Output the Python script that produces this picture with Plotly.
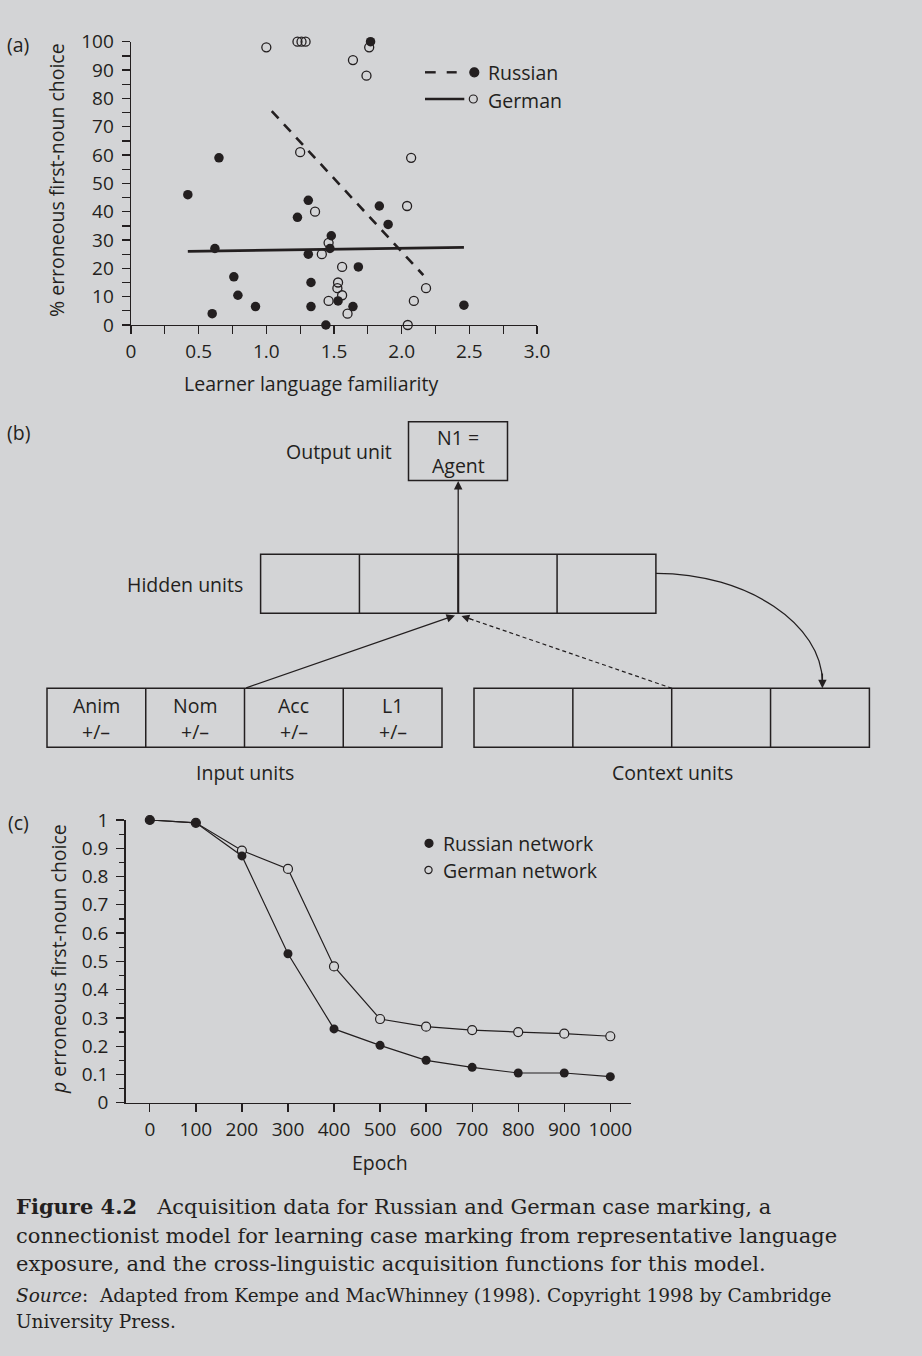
import plotly.graph_objects as go

# ---------------- data ----------------
# Panel (a): learner data
ru_x = [0.42, 0.60, 0.62, 0.65, 0.76, 0.79, 0.92, 1.23, 1.31, 1.31, 1.33, 1.33,
        1.44, 1.47, 1.48, 1.53, 1.64, 1.68, 1.77, 1.835, 1.90, 2.46]
ru_y = [46, 4, 27, 59, 17, 10.5, 6.5, 38, 44, 25, 15, 6.5,
        0, 27, 31.5, 8.5, 6.5, 20.5, 100, 42, 35.5, 7]
de_x = [1.00, 1.23, 1.26, 1.29, 1.25, 1.36, 1.41, 1.46, 1.46, 1.525, 1.53,
        1.56, 1.56, 1.60, 1.64, 1.74, 1.76, 2.04, 2.045, 2.07, 2.09, 2.18]
de_y = [98, 100, 100, 100, 61, 40, 25, 29, 8.5, 13, 15,
        20.5, 10.5, 4, 93.5, 88, 98, 42, 0, 59, 8.5, 13]
# fitted lines (endpoints)
ru_line_x = [1.04, 2.16]
ru_line_y = [75.5, 17.6]
de_line_x = [0.42, 2.46]
de_line_y = [26.0, 27.4]
a_xticks = [0, 0.5, 1.0, 1.5, 2.0, 2.5, 3.0]
a_xticktext = ["0", "0.5", "1.0", "1.5", "2.0", "2.5", "3.0"]

# Panel (c): network simulation
epochs = [0, 100, 200, 300, 400, 500, 600, 700, 800, 900, 1000]
ru_net = [1.0, 0.99, 0.873, 0.527, 0.261, 0.203, 0.150, 0.125, 0.105, 0.105, 0.092]
de_net = [1.0, 0.99, 0.892, 0.827, 0.482, 0.296, 0.269, 0.257, 0.250, 0.244, 0.235]
c_yticks = [0, 0.1, 0.2, 0.3, 0.4, 0.5, 0.6, 0.7, 0.8, 0.9, 1.0]
c_yticktext = ["0", "0.1", "0.2", "0.3", "0.4", "0.5", "0.6", "0.7", "0.8", "0.9", "1"]

# Panel (b): diagram labels
input_labels = ["Anim", "Nom", "Acc", "L1"]

# ---------------- style ----------------
W, H = 922, 1356
BG = "#d3d4d6"
INK = "#231f20"
SANS = "Open Sans"
SERIF = "DejaVu Serif"
FS = 19.5
TFS = 19


def px(x):
    return x / W


def py(y):
    return 1 - y / H


fig = go.Figure()

# ---- panel (a)
fig.add_trace(go.Scatter(x=de_line_x, y=de_line_y, mode="lines",
                         line=dict(color=INK, width=2.6), showlegend=False,
                         cliponaxis=False, xaxis="x", yaxis="y"))
fig.add_trace(go.Scatter(x=ru_line_x, y=ru_line_y, mode="lines",
                         line=dict(color=INK, width=2.6, dash="10px,8px"), showlegend=False,
                         cliponaxis=False, xaxis="x", yaxis="y"))
fig.add_trace(go.Scatter(x=de_x, y=de_y, mode="markers",
                         marker=dict(symbol="circle-open", size=9, color=INK,
                                     line=dict(width=1.3, color=INK)),
                         showlegend=False, cliponaxis=False, xaxis="x", yaxis="y"))
fig.add_trace(go.Scatter(x=ru_x, y=ru_y, mode="markers",
                         marker=dict(symbol="circle", size=9.5, color=INK, line=dict(width=0)),
                         showlegend=False, cliponaxis=False, xaxis="x", yaxis="y"))

# ---- panel (c)
fig.add_trace(go.Scatter(x=epochs, y=de_net, mode="lines+markers",
                         line=dict(color=INK, width=1.2),
                         marker=dict(symbol="circle", size=9, color=BG,
                                     line=dict(width=1.2, color=INK)),
                         showlegend=False, cliponaxis=False, xaxis="x2", yaxis="y2"))
fig.add_trace(go.Scatter(x=epochs, y=ru_net, mode="lines+markers",
                         line=dict(color=INK, width=1.2),
                         marker=dict(symbol="circle", size=9, color=INK, line=dict(width=0)),
                         showlegend=False, cliponaxis=False, xaxis="x2", yaxis="y2"))

tickfont = dict(family=SANS, size=TFS, color=INK)
axis_common = dict(showline=True, linecolor=INK, linewidth=1.4, ticks="outside",
                   ticklen=8, tickwidth=1.3, tickcolor=INK, showgrid=False,
                   zeroline=False, tickfont=tickfont, fixedrange=True,
                   automargin=False)

fig.update_layout(
    width=W, height=H, autosize=False,
    margin=dict(l=0, r=0, t=0, b=0, pad=0, autoexpand=False),
    paper_bgcolor=BG, plot_bgcolor="rgba(0,0,0,0)",
    xaxis=dict(domain=[px(131), px(537)], range=[0, 3], anchor="y",
               tickmode="array", tickvals=a_xticks, ticktext=a_xticktext,
               minor=dict(dtick=0.25, tick0=0, ticks="outside", ticklen=8,
                          tickwidth=1.3, tickcolor=INK),
               ticklabelstandoff=1, **axis_common),
    yaxis=dict(domain=[py(325), py(41.7)], range=[0, 100], anchor="x",
               dtick=10, tick0=0,
               minor=dict(dtick=5, tick0=0, ticks="outside", ticklen=8,
                          tickwidth=1.3, tickcolor=INK),
               ticklabelstandoff=4, **axis_common),
    xaxis2=dict(domain=[px(125.6), px(631.4)], range=[-52.6, 1045.8], anchor="y2",
                tickmode="array", tickvals=epochs, ticktext=[str(e) for e in epochs],
                ticklabelstandoff=1, **axis_common),
    yaxis2=dict(domain=[py(1102.7), py(820)], range=[0, 1], anchor="x2",
                tickmode="array", tickvals=c_yticks, ticktext=c_yticktext,
                minor=dict(dtick=0.05, tick0=0, ticks="outside", ticklen=5,
                           tickwidth=1.2, tickcolor=INK),
                ticklabelstandoff=4, **axis_common),
)

shapes = []
annots = []


def text(x, y, s, size=FS, xanchor="center", yanchor="middle", angle=0, family=SANS):
    annots.append(dict(x=px(x), y=py(y), xref="paper", yref="paper", text=s,
                       showarrow=False, xanchor=xanchor, yanchor=yanchor,
                       textangle=angle, font=dict(family=family, size=size, color=INK)))


def rect(x0, y0, x1, y1, w=1.5):
    shapes.append(dict(type="rect", xref="paper", yref="paper",
                       x0=px(x0), x1=px(x1), y0=py(y1), y1=py(y0),
                       line=dict(color=INK, width=w), fillcolor="rgba(0,0,0,0)"))


def line(x0, y0, x1, y1, w=1.5, dash="solid"):
    shapes.append(dict(type="line", xref="paper", yref="paper",
                       x0=px(x0), x1=px(x1), y0=py(y0), y1=py(y1),
                       line=dict(color=INK, width=w, dash=dash)))


def circle(cx, cy, r, filled=True):
    shapes.append(dict(type="circle", xref="paper", yref="paper",
                       x0=px(cx - r), x1=px(cx + r), y0=py(cy + r), y1=py(cy - r),
                       line=dict(color=INK, width=1.2),
                       fillcolor=INK if filled else "rgba(0,0,0,0)"))


def arrow(hx, hy, tx, ty, w=1.3):
    annots.append(dict(x=px(hx), y=py(hy), xref="paper", yref="paper",
                       ax=tx - hx, ay=ty - hy, axref="pixel", ayref="pixel",
                       text="", showarrow=True, arrowhead=2, arrowsize=1.3,
                       arrowwidth=w, arrowcolor=INK))


# ---- panel (a) texts / legend
text(18, 44, "(a)")
text(57, 180, "% erroneous first-noun choice", angle=-90)
text(311, 383, "Learner language familiarity")
line(425, 72.3, 435.7, 72.3, w=2.4)
line(446.7, 72.3, 456.7, 72.3, w=2.4)
circle(474.3, 72.3, 4.5, True)
text(486, 73, "Russian", xanchor="left")
line(425, 99, 464.3, 99, w=2.4)
circle(473.3, 99, 4.0, False)
text(486, 100, "German", xanchor="left")

# ---- panel (b) diagram
text(18, 433, "(b)")
rect(408.5, 421.7, 507.5, 480.5)
text(458, 438, "N1 =")
text(458, 465, "Agent")
text(394, 452, "Output unit", xanchor="right")

hx0, hx1, hy0, hy1 = 260.6, 655.9, 554.3, 613.3
rect(hx0, hy0, hx1, hy1)
for i in range(1, 4):
    xx = hx0 + i * (hx1 - hx0) / 4
    line(xx, hy0, xx, hy1, w=1.5 if i != 2 else 2.0)
text(245, 585, "Hidden units", xanchor="right")

ix0, ix1, iy0, iy1 = 47, 442, 688.3, 747.3
rect(ix0, iy0, ix1, iy1)
cw = (ix1 - ix0) / 4
for i in range(1, 4):
    line(ix0 + i * cw, iy0, ix0 + i * cw, iy1)
for i, lab in enumerate(input_labels):
    cx = ix0 + (i + 0.5) * cw
    text(cx, 705, lab)
    text(cx, 732, "+/\u2013")
text(245, 772, "Input units")

cx0, cx1 = 474, 869.4
rect(cx0, iy0, cx1, iy1)
cw2 = (cx1 - cx0) / 4
for i in range(1, 4):
    line(cx0 + i * cw2, iy0, cx0 + i * cw2, iy1)
text(672, 772, "Context units")

# arrows
arrow(458.2, 481, 458.2, 613.3)
arrow(455, 615.5, 244.7, 688.3)
line(672, 688.3, 466, 617.5, w=1.2, dash="4px,3px")
arrow(461.5, 616, 474.8, 620.5, w=1.2)
k = 0.5523
sx, sy, ex, ey = 656, 573.3, 822.4, 688.3
rx, ry = ex - sx, ey - sy
path = "M {:.5f},{:.5f} C {:.5f},{:.5f} {:.5f},{:.5f} {:.5f},{:.5f}".format(
    px(sx), py(sy), px(sx + k * rx), py(sy), px(ex), py(ey - k * ry), px(ex), py(ey - 6))
shapes.append(dict(type="path", xref="paper", yref="paper", path=path,
                   line=dict(color=INK, width=1.3)))
arrow(822.4, 688.3, 822.4, 672)

# ---- panel (c) texts / legend
text(18, 822, "(c)")
text(58, 959, "<i>p</i> erroneous first-noun choice", angle=-90)
text(380, 1162, "Epoch")
circle(429, 843.3, 4.0, True)
text(441, 843.5, "Russian network", xanchor="left")
circle(428.5, 870, 3.6, False)
text(441, 870.5, "German network", xanchor="left")

# ---- caption
CS = 21
text(14, 1206, "<b>Figure 4.2</b>\u00a0\u00a0 Acquisition data for Russian and German case marking, a",
     size=CS, xanchor="left", family=SERIF)
text(14, 1236, "connectionist model for learning case marking from representative language",
     size=CS, xanchor="left", family=SERIF)
text(14, 1264, "exposure, and the cross-linguistic acquisition functions for this model.",
     size=CS, xanchor="left", family=SERIF)
text(14, 1295, "<i>Source</i>:\u00a0 Adapted from Kempe and MacWhinney (1998). Copyright 1998 by Cambridge",
     size=18.5, xanchor="left", family=SERIF)
text(14, 1321, "University Press.", size=18.5, xanchor="left", family=SERIF)

fig.update_layout(shapes=shapes, annotations=annots)
fig.write_html("out.html",
               config={"displayModeBar": False, "staticPlot": True},
               post_script="document.body.style.margin='0';document.body.style.padding='0';"
                           "document.documentElement.style.overflow='hidden';"
                           "document.body.style.background='" + BG + "';")
